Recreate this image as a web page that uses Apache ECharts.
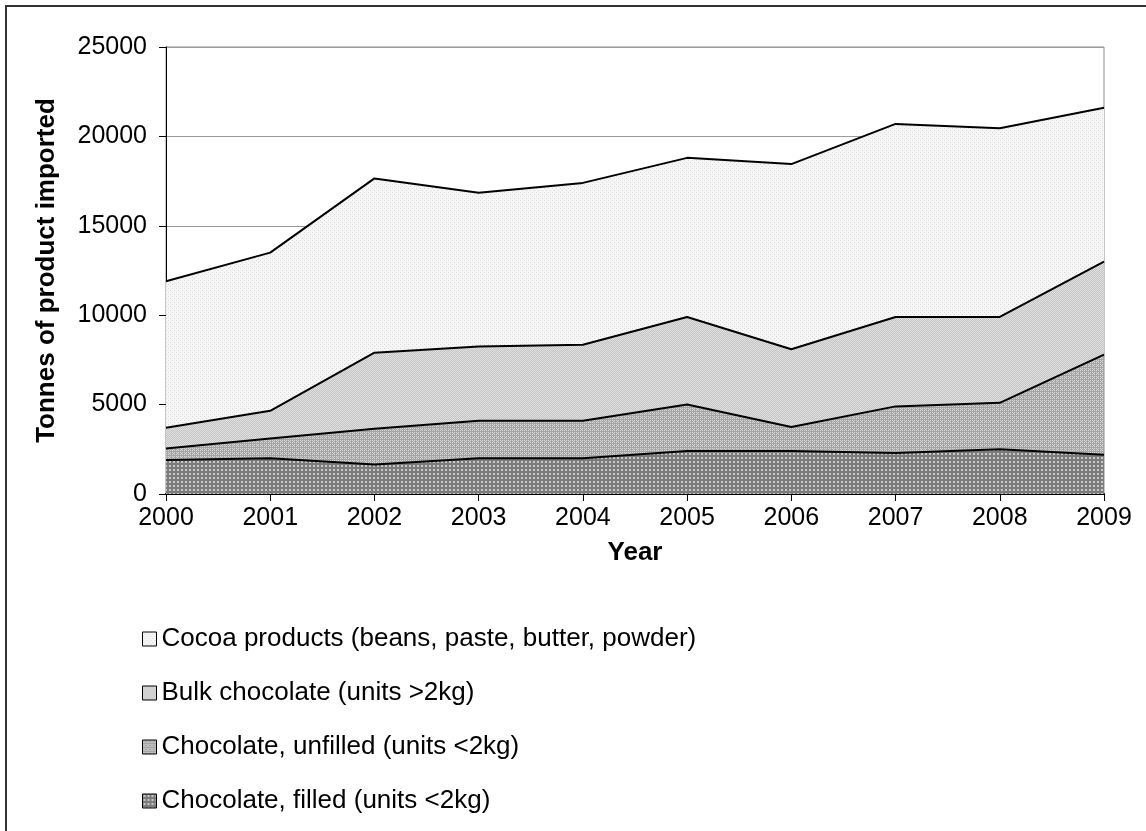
<!DOCTYPE html>
<html>
<head>
<meta charset="utf-8">
<script src="https://cdn.jsdelivr.net/npm/echarts@6/dist/echarts.min.js"></script>
<style>
  html, body { margin: 0; padding: 0; background: #fff; }
  #frame { position: absolute; left: 5px; top: 5px; width: 1160px; height: 900px; border: 2px solid #333; box-sizing: border-box; }
  #chart { position: absolute; left: 0; top: 0; width: 1146px; height: 831px; }
</style>
</head>
<body>
<div id="frame"></div>
<div id="chart"></div>
<script>
// Imports by year, tonnes
const years = ['2000', '2001', '2002', '2003', '2004', '2005', '2006', '2007', '2008', '2009'];
const chocolateFilled   = [1900, 2000, 1650, 2000, 2000, 2400, 2400, 2300, 2500, 2200];
const chocolateUnfilled = [650, 1100, 2000, 2100, 2100, 2600, 1350, 2600, 2600, 5600];
const bulkChocolate     = [1150, 1550, 4250, 4150, 4250, 4900, 4350, 5000, 4800, 5200];
const cocoaProducts     = [8200, 8850, 9750, 8600, 9050, 8900, 10350, 10800, 10550, 8600];
const seriesNames = [
  'Chocolate, filled (units <2kg)',
  'Chocolate, unfilled (units <2kg)',
  'Bulk chocolate (units >2kg)',
  'Cocoa products (beans, paste, butter, powder)'
];

// Small dotted tiles used as area fills
function dotTile(size, bg, dot, dots) {
  const c = document.createElement('canvas');
  c.width = size; c.height = size;
  const g = c.getContext('2d');
  g.fillStyle = bg; g.fillRect(0, 0, size, size);
  g.fillStyle = dot;
  dots.forEach(d => g.fillRect(d[0], d[1], d[2] || 1, d[3] || 1));
  return { image: c, repeat: 'repeat' };
}
const fillFilled   = dotTile(4, '#7c7c7c', '#c8c8c8', [[1, 1, 2, 2]]);
const fillUnfilled = dotTile(4, '#a4a4a4', '#d8d8d8', [[0, 0, 1, 1], [2, 0, 1, 1], [0, 2, 1, 1], [2, 2, 1, 1], [1, 1, 1, 1]]);
const fillBulk     = dotTile(2, '#c4c4c4', '#e0e0e0', [[0, 0, 1, 1], [1, 1, 1, 1]]);
const fillCocoa    = dotTile(4, '#f6f6f6', '#d8d8d8', [[0, 0, 1, 1], [2, 2, 1, 1]]);

const valueSets = [chocolateFilled, chocolateUnfilled, bulkChocolate, cocoaProducts];
const fills = [fillFilled, fillUnfilled, fillBulk, fillCocoa];

const chart = echarts.init(document.getElementById('chart'), null, { renderer: 'canvas' });
const font = 'Liberation Sans, Arial, sans-serif';
const tickSize = 25;
const titleSize = 26;

chart.setOption({
  animation: false,
  backgroundColor: 'transparent',
  grid: { left: 166, top: 47, right: 42, bottom: 337, show: true, borderColor: '#8c8c8c', borderWidth: 1, backgroundColor: 'transparent' },
  legend: {
    orient: 'vertical',
    left: 137,
    top: 620,
    itemWidth: 14,
    itemHeight: 14,
    itemGap: 26,
    icon: 'rect',
    data: seriesNames.slice().reverse(),
    itemStyle: { borderColor: '#000', borderWidth: 1 },
    textStyle: { fontFamily: font, fontSize: titleSize, color: '#000', lineHeight: 28, padding: [0, 0, 0, 0] }
  },
  xAxis: {
    type: 'category',
    data: years,
    boundaryGap: false,
    name: 'Year',
    nameLocation: 'middle',
    nameGap: 46,
    nameTextStyle: { fontFamily: font, fontSize: titleSize, fontWeight: 'bold', color: '#000' },
    axisLine: { lineStyle: { color: '#000', width: 2 } },
    axisTick: { show: true, length: 7, lineStyle: { color: '#000', width: 1 }, alignWithLabel: true },
    axisLabel: { fontFamily: font, fontSize: tickSize, color: '#000', margin: 12 },
    splitLine: { show: false }
  },
  yAxis: {
    type: 'value',
    min: 0,
    max: 25000,
    interval: 5000,
    name: 'Tonnes of product imported',
    nameLocation: 'middle',
    nameGap: 106,
    nameTextStyle: { fontFamily: font, fontSize: titleSize, fontWeight: 'bold', color: '#000' },
    axisLine: { show: true, lineStyle: { color: '#000', width: 1 } },
    axisTick: { show: true, length: 7, lineStyle: { color: '#000' } },
    axisLabel: { fontFamily: font, fontSize: tickSize, color: '#000', margin: 19, formatter: v => String(v) },
    splitLine: { show: true, lineStyle: { color: '#9a9a9a', width: 1 } }
  },
  series: valueSets.map((vals, i) => ({
    name: seriesNames[i],
    type: 'line',
    stack: 'total',
    data: vals,
    symbol: 'none',
    lineStyle: { color: '#000', width: 2 },
    itemStyle: { color: fills[i], borderColor: '#000', borderWidth: 1 },
    areaStyle: { color: fills[i], opacity: 1 },
    z: 2
  }))
});
</script>
</body>
</html>
